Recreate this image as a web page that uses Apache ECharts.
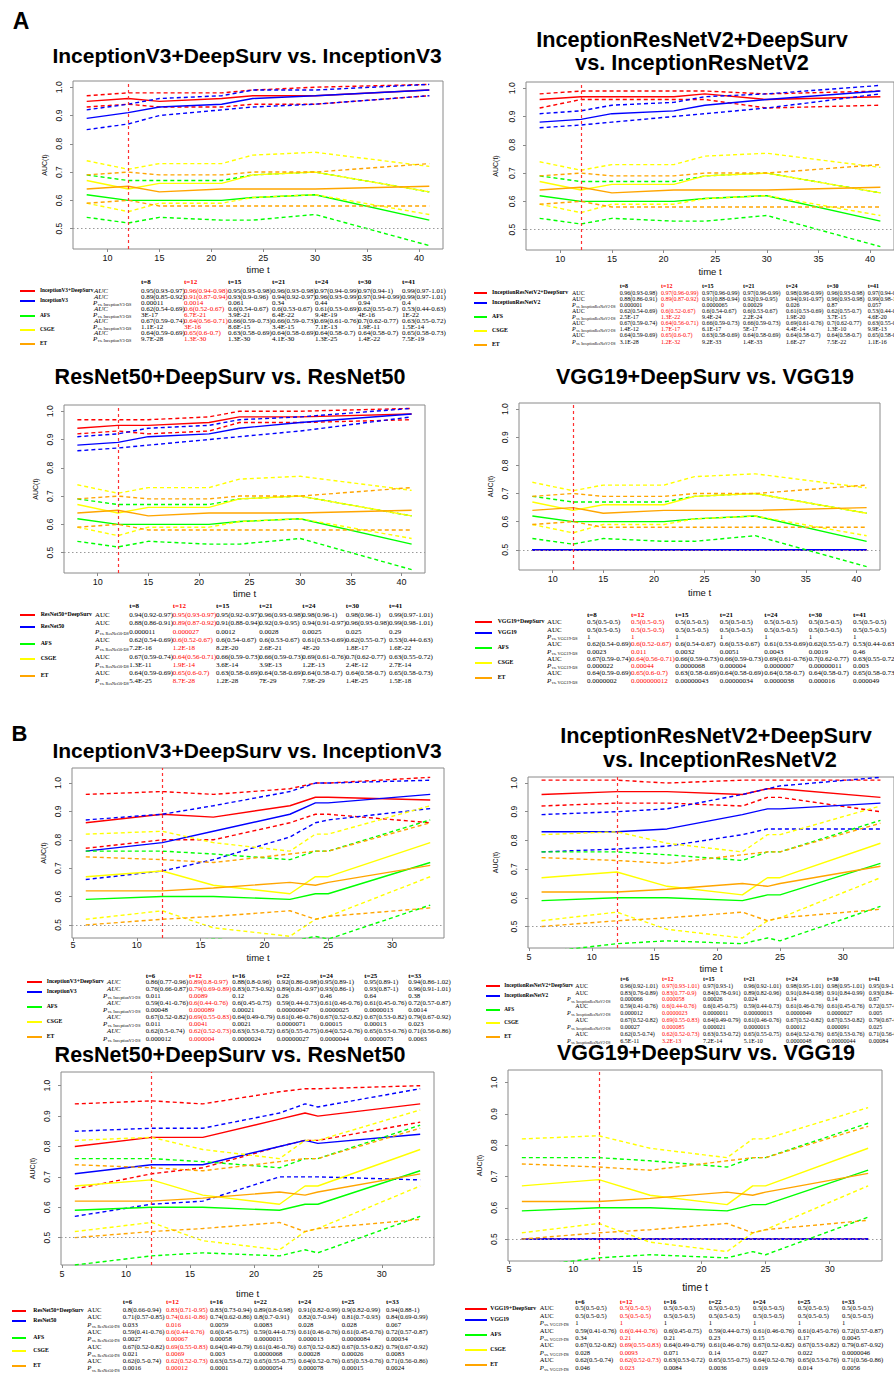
<!DOCTYPE html>
<html><head><meta charset="utf-8">
<script src="https://cdn.jsdelivr.net/npm/echarts@6/dist/echarts.min.js"></script>
<style>
html,body{margin:0;padding:0;background:#fff;width:894px;height:1373px;overflow:hidden}
#chart{position:absolute;left:0;top:0;width:894px;height:1373px}
#ov{position:absolute;left:0;top:0;width:894px;height:1373px;overflow:hidden;pointer-events:none}
.t{position:absolute;white-space:nowrap;line-height:1;transform:translate(0,-50%);font-family:"Liberation Serif","Times New Roman",serif;color:#000}
.ttl{position:absolute;white-space:nowrap;line-height:1;transform:translate(-50%,-50%);font-family:"Liberation Sans",Arial,sans-serif;font-weight:bold;color:#000}
.lg{position:absolute;height:0;border-top-style:solid;border-top-width:2px}
.red{color:#FF0000}
</style></head><body>
<div id="chart"></div><div id="ov"></div>
<script>
// ---------------- DATA ----------------
const tA = [8, 12, 15, 21, 24, 30, 41];
const tB = [6, 12, 16, 22, 24, 25, 33];
const tLabA = ['t=8','t=12','t=15','t=21','t=24','t=30','t=41'];
const tLabB = ['t=6','t=12','t=16','t=22','t=24','t=25','t=33'];
const tLabB2 = ['t=6','t=12','t=15','t=21','t=24','t=30','t=41'];
const xTicksA = [10, 15, 20, 25, 30, 35, 40];
const xTicksB = [5, 10, 15, 20, 25, 30];
const yTicks = [0.5, 0.6, 0.7, 0.8, 0.9, 1.0];

// shared comparators, cohort A
const afsA_auc = [0.62,0.6,0.6,0.6,0.61,0.62,0.53];
const afsA_lo  = [0.54,0.52,0.54,0.53,0.53,0.55,0.44];
const afsA_hi  = [0.69,0.67,0.67,0.67,0.69,0.7,0.63];
const csgeA_auc = [0.67,0.64,0.66,0.66,0.69,0.7,0.63];
const csgeA_lo  = [0.59,0.56,0.59,0.59,0.61,0.62,0.55];
const csgeA_hi  = [0.74,0.71,0.73,0.73,0.76,0.77,0.72];
const etA_auc = [0.64,0.65,0.63,0.64,0.64,0.64,0.65];
const etA_lo  = [0.59,0.6,0.58,0.58,0.58,0.58,0.58];
const etA_hi  = [0.69,0.7,0.69,0.69,0.7,0.7,0.73];

// shared comparators, cohort B
const afsB_auc = [0.59,0.6,0.6,0.59,0.61,0.61,0.72];
const afsB_lo  = [0.41,0.44,0.45,0.44,0.46,0.45,0.57];
const afsB_hi  = [0.76,0.76,0.75,0.73,0.76,0.76,0.87];
const csgeB_auc = [0.67,0.69,0.64,0.61,0.67,0.67,0.79];
const csgeB_lo  = [0.52,0.55,0.49,0.46,0.52,0.53,0.67];
const csgeB_hi  = [0.82,0.83,0.79,0.76,0.82,0.82,0.92];
const etB_auc = [0.62,0.62,0.63,0.65,0.64,0.65,0.71];
const etB_lo  = [0.5,0.52,0.53,0.55,0.52,0.53,0.56];
const etB_hi  = [0.74,0.73,0.72,0.75,0.76,0.76,0.86];

// A: InceptionV3
const incA_ds_auc = [0.95,0.96,0.95,0.96,0.97,0.97,0.99];
const incA_ds_lo  = [0.93,0.94,0.93,0.93,0.94,0.94,0.97];
const incA_ds_hi  = [0.97,0.98,0.98,0.98,0.99,1,1.01];
const incA_b_auc = [0.89,0.91,0.93,0.94,0.96,0.97,0.99];
const incA_b_lo  = [0.85,0.87,0.9,0.92,0.93,0.94,0.97];
const incA_b_hi  = [0.92,0.94,0.96,0.97,0.99,0.99,1.01];
const incA_p     = ['0.00011','0.0014','0.061','0.34','0.44','0.94','0.4'];
const incA_pAFS  = ['3E-17','6.7E-21','3.9E-21','6.4E-22','9.4E-19','4E-16','1E-22'];
const incA_pCSGE = ['1.1E-12','3E-16','8.6E-15','3.4E-15','7.1E-13','1.9E-11','1.5E-14'];
const incA_pET   = ['9.7E-28','1.3E-30','1.3E-30','4.1E-30','1.3E-25','1.4E-22','7.5E-19'];

// A: InceptionResNetV2
const irA_ds_auc = [0.96,0.97,0.97,0.97,0.98,0.96,0.97];
const irA_ds_lo  = [0.93,0.96,0.96,0.96,0.96,0.93,0.94];
const irA_ds_hi  = [0.98,0.99,0.99,0.99,0.99,0.98,0.99];
const irA_b_auc = [0.88,0.89,0.91,0.92,0.94,0.96,0.99];
const irA_b_lo  = [0.86,0.87,0.88,0.9,0.91,0.93,0.98];
const irA_b_hi  = [0.91,0.92,0.94,0.95,0.97,0.98,1.01];
const irA_p     = ['0.000001','0','0.0000065','0.00029','0.026','0.87','0.057'];
const irA_pAFS  = ['2.5E-17','1.3E-22','9.4E-24','2.2E-24','1.9E-20','3.7E-15','4.6E-20'];
const irA_pCSGE = ['1.4E-12','1.7E-17','6.1E-17','5E-17','4.4E-14','1.3E-10','9.9E-13'];
const irA_pET   = ['3.1E-28','1.2E-32','9.2E-33','1.4E-33','1.6E-27','7.5E-22','1.1E-16'];

// A: ResNet50
const resA_ds_auc = [0.94,0.95,0.95,0.96,0.98,0.98,0.99];
const resA_ds_lo  = [0.92,0.93,0.92,0.93,0.96,0.96,0.97];
const resA_ds_hi  = [0.97,0.97,0.97,0.98,1,1,1.01];
const resA_b_auc = [0.88,0.89,0.91,0.92,0.94,0.96,0.99];
const resA_b_lo  = [0.86,0.87,0.88,0.9,0.91,0.93,0.98];
const resA_b_hi  = [0.91,0.92,0.94,0.95,0.97,0.98,1.01];
const resA_p     = ['0.000011','0.000027','0.0012','0.0028','0.0025','0.025','0.29'];
const resA_pAFS  = ['7.2E-16','1.2E-18','8.2E-20','2.6E-21','4E-20','1.8E-17','1.6E-22'];
const resA_pCSGE = ['1.3E-11','1.9E-14','3.6E-14','3.9E-13','1.2E-13','2.4E-12','2.7E-14'];
const resA_pET   = ['5.4E-25','8.7E-28','1.2E-28','7E-29','7.9E-29','1.4E-25','1.5E-18'];

// A: VGG19
const vggA_ds_auc = [0.5,0.5,0.5,0.5,0.5,0.5,0.5];
const vggA_ds_lo  = [0.5,0.5,0.5,0.5,0.5,0.5,0.5];
const vggA_ds_hi  = [0.5,0.5,0.5,0.5,0.5,0.5,0.5];
const vggA_b_auc = [0.5,0.5,0.5,0.5,0.5,0.5,0.5];
const vggA_b_lo  = [0.5,0.5,0.5,0.5,0.5,0.5,0.5];
const vggA_b_hi  = [0.5,0.5,0.5,0.5,0.5,0.5,0.5];
const vggA_p     = ['1','1','1','1','1','1','1'];
const vggA_pAFS  = ['0.0023','0.011','0.0032','0.0051','0.0043','0.0019','0.46'];
const vggA_pCSGE = ['0.000022','0.00044','0.0000068','0.000004','0.0000007','0.00000011','0.003'];
const vggA_pET   = ['0.0000002','0.000000012','0.00000043','0.00000034','0.0000038','0.000016','0.000049'];

// B: InceptionV3
const incB_ds_auc = [0.86,0.89,0.88,0.92,0.95,0.95,0.94];
const incB_ds_lo  = [0.77,0.8,0.8,0.86,0.89,0.89,0.86];
const incB_ds_hi  = [0.96,0.97,0.96,0.98,1,1,1.02];
const incB_b_auc = [0.76,0.79,0.83,0.89,0.93,0.93,0.96];
const incB_b_lo  = [0.66,0.69,0.73,0.81,0.86,0.87,0.91];
const incB_b_hi  = [0.87,0.89,0.92,0.97,1,1,1.01];
const incB_p     = ['0.011','0.0089','0.12','0.26','0.46','0.64','0.38'];
const incB_pAFS  = ['0.00048','0.000089','0.00021','0.00000047','0.0000025','0.0000013','0.0014'];
const incB_pCSGE = ['0.011','0.0041','0.0021','0.0000071','0.00015','0.00013','0.023'];
const incB_pET   = ['0.000012','0.000004','0.0000024','0.00000027','0.0000044','0.0000073','0.0063'];

// B: InceptionResNetV2
const irB_ds_auc = [0.96,0.97,0.97,0.96,0.98,0.98,0.95];
const irB_ds_lo  = [0.92,0.93,0.93,0.92,0.95,0.95,0.9];
const irB_ds_hi  = [1.01,1.01,1,1.01,1.01,1.01,1.01];
const irB_b_auc = [0.83,0.83,0.84,0.89,0.91,0.91,0.93];
const irB_b_lo  = [0.76,0.77,0.78,0.82,0.84,0.84,0.84];
const irB_b_hi  = [0.89,0.9,0.91,0.96,0.98,0.99,1.02];
const irB_p     = ['0.000066','0.000058','0.00026','0.024','0.14','0.14','0.67'];
const irB_pAFS  = ['0.000012','0.0000023','0.0000011','0.00000013','0.0000049','0.0000027','0.005'];
const irB_pCSGE = ['0.00027','0.000085','0.000021','0.0000013','0.00012','0.000091','0.025'];
const irB_pET   = ['6.5E-11','3.2E-13','7.2E-14','5.1E-10','0.0000048','0.00000044','0.00084'];

// B: ResNet50
const resB_ds_auc = [0.8,0.83,0.83,0.89,0.91,0.9,0.94];
const resB_ds_lo  = [0.66,0.71,0.73,0.8,0.82,0.82,0.88];
const resB_ds_hi  = [0.94,0.95,0.94,0.98,0.99,0.99,1];
const resB_b_auc = [0.71,0.74,0.74,0.8,0.82,0.81,0.84];
const resB_b_lo  = [0.57,0.61,0.62,0.7,0.7,0.7,0.69];
const resB_b_hi  = [0.85,0.86,0.86,0.91,0.94,0.93,0.99];
const resB_p     = ['0.033','0.016','0.0059','0.0083','0.028','0.028','0.067'];
const resB_pAFS  = ['0.0027','0.00067','0.00058','0.0000015','0.000013','0.0000084','0.00034'];
const resB_pCSGE = ['0.021','0.0069','0.003','0.0000068','0.00028','0.00026','0.0083'];
const resB_pET   = ['0.0016','0.00012','0.0001','0.0000054','0.000078','0.00015','0.0024'];

// B: VGG19
const vggB_ds_auc = [0.5,0.5,0.5,0.5,0.5,0.5,0.5];
const vggB_ds_lo  = [0.5,0.5,0.5,0.5,0.5,0.5,0.5];
const vggB_ds_hi  = [0.5,0.5,0.5,0.5,0.5,0.5,0.5];
const vggB_b_auc = [0.5,0.5,0.5,0.5,0.5,0.5,0.5];
const vggB_b_lo  = [0.5,0.5,0.5,0.5,0.5,0.5,0.5];
const vggB_b_hi  = [0.5,0.5,0.5,0.5,0.5,0.5,0.5];
const vggB_p     = ['1','1','1','1','1','1','1'];
const vggB_pAFS  = ['0.34','0.21','0.21','0.23','0.15','0.17','0.0045'];
const vggB_pCSGE = ['0.028','0.0093','0.071','0.14','0.027','0.022','0.0000046'];
const vggB_pET   = ['0.046','0.023','0.0084','0.0036','0.019','0.014','0.0056'];

// ---------------- PANELS (built from the arrays) ----------------
const COLORS = ['#FF0000','#0000FF','#00FF00','#FFFF00','#FFA500'];
const cmpA = [[afsA_auc,afsA_lo,afsA_hi],[csgeA_auc,csgeA_lo,csgeA_hi],[etA_auc,etA_lo,etA_hi]];
const cmpB = [[afsB_auc,afsB_lo,afsB_hi],[csgeB_auc,csgeB_lo,csgeB_hi],[etB_auc,etB_lo,etB_hi]];
function panel(base, t, tl, xt, ds, b, cmp, ps){
  return {base, t, tl, xt, models:[ds, b].concat(cmp), ps};
}
const panels = [
  panel('InceptionV3', tA, tLabA, xTicksA, [incA_ds_auc,incA_ds_lo,incA_ds_hi],[incA_b_auc,incA_b_lo,incA_b_hi], cmpA, [incA_p,incA_pAFS,incA_pCSGE,incA_pET]),
  panel('InceptionResNetV2', tA, tLabA, xTicksA, [irA_ds_auc,irA_ds_lo,irA_ds_hi],[irA_b_auc,irA_b_lo,irA_b_hi], cmpA, [irA_p,irA_pAFS,irA_pCSGE,irA_pET]),
  panel('ResNet50', tA, tLabA, xTicksA, [resA_ds_auc,resA_ds_lo,resA_ds_hi],[resA_b_auc,resA_b_lo,resA_b_hi], cmpA, [resA_p,resA_pAFS,resA_pCSGE,resA_pET]),
  panel('VGG19', tA, tLabA, xTicksA, [vggA_ds_auc,vggA_ds_lo,vggA_ds_hi],[vggA_b_auc,vggA_b_lo,vggA_b_hi], cmpA, [vggA_p,vggA_pAFS,vggA_pCSGE,vggA_pET]),
  panel('InceptionV3', tB, tLabB, xTicksB, [incB_ds_auc,incB_ds_lo,incB_ds_hi],[incB_b_auc,incB_b_lo,incB_b_hi], cmpB, [incB_p,incB_pAFS,incB_pCSGE,incB_pET]),
  panel('InceptionResNetV2', tB, tLabB2, xTicksB, [irB_ds_auc,irB_ds_lo,irB_ds_hi],[irB_b_auc,irB_b_lo,irB_b_hi], cmpB, [irB_p,irB_pAFS,irB_pCSGE,irB_pET]),
  panel('ResNet50', tB, tLabB, xTicksB, [resB_ds_auc,resB_ds_lo,resB_ds_hi],[resB_b_auc,resB_b_lo,resB_b_hi], cmpB, [resB_p,resB_pAFS,resB_pCSGE,resB_pET]),
  panel('VGG19', tB, tLabB, xTicksB, [vggB_ds_auc,vggB_ds_lo,vggB_ds_hi],[vggB_b_auc,vggB_b_lo,vggB_b_hi], cmpB, [vggB_p,vggB_pAFS,vggB_pCSGE,vggB_pET]),
];

// ---------------- LAYOUT ----------------
const L = [
 {g:[73,81,370,168], x:[6.68,42.32], y:[0.428,1.022], tt:[[247,55,21,null]], xg:4, ng:15, yg:10, yn:25, nf:9.5,
  leg:{x1:20,x2:35,lx:40,lf:5.3,ys:[290.7,301,315.7,330,344.3]},
  tab:{rx:93, ax:94, cols:[141,184,228,272,315,358,402], hy:282.3, y0:290.7, dy:6.0, fs:7, it:true}},
 {g:[526,82,375,168], x:[6.68,42.32], y:[0.428,1.022], tt:[[692,40,21.7,1],[692,63,21.7,2]], xg:4, ng:16, yg:10, yn:27, nf:9.5,
  leg:{x1:474,x2:487,lx:492,lf:5.8,ys:[293.3,303.3,317.3,331,345]},
  tab:{rx:572, ax:572, cols:[619.7,661,702,743,786,827,867.7], hy:285.7, y0:292.7, dy:6.1, fs:6, it:false}},
 {g:[64,405,361,168], x:[6.68,42.32], y:[0.428,1.022], tt:[[230,378,21.5,null]], xg:4, ng:15, yg:10, yn:25, nf:9.5,
  leg:{x1:20,x2:35,lx:40.7,lf:5.8,ys:[615,626.7,644,659,675.7]},
  tab:{rx:95, ax:95, cols:[129.3,172.7,216,259.3,302.3,345.7,389], hy:605.7, y0:615, dy:8.3, fs:7, it:false}},
 {g:[519,403,361,167], x:[6.68,42.32], y:[0.428,1.022], tt:[[705,378,21.5,null]], xg:4, ng:17, yg:10, yn:25, nf:9.5,
  leg:{x1:475,x2:492,lx:497.7,lf:5.8,ys:[622.3,632.7,648.3,663.3,678.3]},
  tab:{rx:547, ax:547, cols:[587,631,675.3,719.7,764.3,808.7,853], hy:615, y0:622.3, dy:7.3, fs:7, it:false}},
 {g:[72,768,372,170], x:[4.92,34.08], y:[0.454,1.053], tt:[[247,750,21,null]], xg:2, ng:14, yg:10, yn:25, nf:9.5,
  leg:{x1:27,x2:42,lx:46.7,lf:5.7,ys:[982.3,992.3,1006.7,1021.7,1036.5]},
  tab:{rx:103, ax:107, cols:[145.7,189,232.3,276.7,320,364.3,408.3], hy:976, y0:981.7, dy:7.1, fs:6.8, it:true}},
 {g:[528,777,376,171], x:[4.92,34.08], y:[0.425,1.021], tt:[[716,736,21.7,1],[720,760,21.7,2]], xg:4, ng:15, yg:10, yn:29, nf:9.5,
  leg:{x1:486,x2:500,lx:504.3,lf:5.25,ys:[985.7,995.7,1010,1023.3,1037]},
  tab:{rx:567, ax:575.3, cols:[620.3,662,703,743.7,786,827,868.7], hy:979, y0:985.7, dy:6.85, fs:6, it:false}},
 {g:[61,1072,373,193], x:[4.92,34.08], y:[0.41,1.045], tt:[[230,1056,21.5,null]], xg:4, ng:23, yg:10, yn:25, nf:9.5,
  leg:{x1:12,x2:26,lx:33.3,lf:5.7,ys:[1310.7,1320.7,1338.3,1351,1366]},
  tab:{rx:87.3, ax:87.3, cols:[122.7,166,210,254,298.3,341.7,386], hy:1302.3, y0:1310, dy:7.3, fs:6.7, it:false}},
 {g:[508,1070,374,191], x:[4.92,34.08], y:[0.43,1.04], tt:[[706,1054,21.5,null]], xg:3, ng:20, yg:10, yn:25, nf:10.5,
  leg:{x1:465,x2:487,lx:490.3,lf:5.7,ys:[1309.3,1320,1335,1350,1365]},
  tab:{rx:539.7, ax:539.7, cols:[575.3,619.7,663.7,708.7,753,797.7,842], hy:1302.3, y0:1308.3, dy:7.43, fs:6.6, it:false}},
];

// ---------------- CHART ----------------
const chart = echarts.init(document.getElementById('chart'), null, {renderer:'svg', width:894, height:1373});
const FONT = '"Liberation Sans", Arial, sans-serif';
const grid = [], xAxis = [], yAxis = [], series = [];
panels.forEach((p, i) => {
  const l = L[i];
  grid.push({left:l.g[0], top:l.g[1], width:l.g[2], height:l.g[3], show:true, borderColor:'#8a8a8a', borderWidth:1, backgroundColor:'transparent', containLabel:false});
  xAxis.push({gridIndex:i, type:'value', min:l.x[0], max:l.x[1],
    axisLine:{show:false}, splitLine:{show:false},
    axisTick:{show:true, customValues:p.xt, length:3, lineStyle:{color:'#8a8a8a'}},
    axisLabel:{customValues:p.xt, fontSize:9, color:'#111', margin:l.xg, fontFamily:FONT},
    name:'time t', nameLocation:'middle', nameGap:l.ng, nameTextStyle:{fontSize:l.nf, color:'#111', fontFamily:FONT}});
  yAxis.push({gridIndex:i, type:'value', min:l.y[0], max:l.y[1],
    axisLine:{show:false}, splitLine:{show:false},
    axisTick:{show:true, customValues:yTicks, length:3, lineStyle:{color:'#8a8a8a'}},
    axisLabel:{customValues:yTicks, rotate:90, fontSize:8.5, color:'#111', margin:l.yg, fontFamily:FONT, formatter:v=>v.toFixed(1)},
    name:'AUC(t)', nameLocation:'middle', nameGap:l.yn, nameTextStyle:{fontSize:7, color:'#111', fontFamily:FONT}});
  p.models.forEach((m, k) => {
    [0,1,2].forEach(j => {
      const s = {type:'line', xAxisIndex:i, yAxisIndex:i, symbol:'none', silent:true, animation:false,
        data: p.t.map((tv, n) => [tv, m[j][n]]),
        lineStyle:{color:COLORS[k], width:1.4, type: j===0 ? 'solid' : [4,3]}};
      if (k===0 && j===0) {
        s.markLine = {silent:true, symbol:['none','none'], label:{show:false}, animation:false,
          data:[{xAxis:12, lineStyle:{color:'#FF3030', type:[3,3], width:1.2}},
                {yAxis:0.5, lineStyle:{color:'#9a9a9a', type:[1.5,2.5], width:1}}]};
      }
      series.push(s);
    });
  });
});
chart.setOption({animation:false, grid, xAxis, yAxis, series});

// ---------------- TEXT OVERLAY ----------------
const ov = document.getElementById('ov');
function put(x, y, html, cls, css){
  const d = document.createElement('div');
  d.className = cls; d.style.left = x+'px'; d.style.top = y+'px';
  if (css) d.style.cssText += css;
  d.innerHTML = html; ov.appendChild(d); return d;
}
put(21, 21, 'A', 'ttl', 'font-size:23px');
put(19.5, 734, 'B', 'ttl', 'font-size:22px');

const fmt = (a,l,h) => a + '(' + l + '-' + h + ')';
panels.forEach((p, i) => {
  const l = L[i];
  const dsName = p.base + '+DeepSurv';
  l.tt.forEach(tt => {
    let txt = dsName + ' vs. ' + p.base;
    if (tt[3] === 1) txt = dsName;
    if (tt[3] === 2) txt = 'vs. ' + p.base;
    put(tt[0], tt[1], txt, 'ttl', 'font-size:'+tt[2]+'px');
  });
  const names = [dsName, p.base, 'AFS', 'CSGE', 'ET'];
  names.forEach((n, k) => {
    const y = l.leg.ys[k];
    put(l.leg.x1, y-1, '', 'lg', 'width:'+(l.leg.x2-l.leg.x1)+'px;border-top-color:'+COLORS[k]);
    put(l.leg.lx, y, n, 't', 'font-size:'+l.leg.lf+'px;font-weight:bold');
  });
  const tb = l.tab, fs = tb.fs;
  p.tl.forEach((h, c) => put(tb.cols[c], tb.hy, h, 't' + (c===1?' red':''), 'font-size:'+fs+'px;font-weight:bold'));
  const rows = [
    ['AUC', p.models[0]], ['AUC', p.models[1]], ['P', p.ps[0]],
    ['AUC', p.models[2]], ['P', p.ps[1]],
    ['AUC', p.models[3]], ['P', p.ps[2]],
    ['AUC', p.models[4]], ['P', p.ps[3]]];
  rows.forEach((r, ri) => {
    const y = tb.y0 + ri*tb.dy;
    if (r[0] === 'AUC') put(tb.ax, y, tb.it ? '<i>AUC</i>' : 'AUC', 't', 'font-size:'+fs+'px');
    else put(tb.rx, y, '<i>P</i><span style="font-size:'+(fs*0.6).toFixed(1)+'px;position:relative;top:1.2px;margin-left:0.5px">vs. '+p.base+'-DS</span>', 't', 'font-size:'+fs+'px');
    for (let c=0; c<7; c++){
      const txt = r[0]==='AUC' ? fmt(r[1][0][c], r[1][1][c], r[1][2][c]) : r[1][c];
      put(tb.cols[c], y, txt, 't' + (c===1?' red':''), 'font-size:'+fs+'px');
    }
  });
});
</script>
</body></html>
